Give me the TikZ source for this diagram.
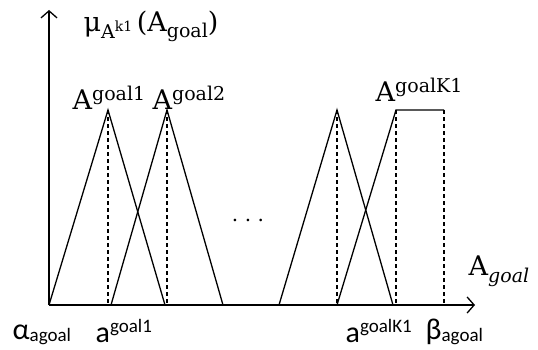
\documentclass[tikz,border=0pt]{standalone}
\usepackage{fontspec}
\usepackage{tikz}
\usetikzlibrary{arrows.meta}
\setmainfont{DejaVu Serif}
\newfontfamily\calib{Carlito}
\newcommand\upper[2][9pt]{\raisebox{#1}{\fontsize{19}{19}\selectfont #2}}
\newcommand\lowtxt[2][-6pt]{\raisebox{#1}{\fontsize{19}{19}\selectfont #2}}

\begin{document}
\begin{tikzpicture}[x=1pt, y=1pt, line width=1.3pt,
    axis/.style={-{Straight Barb[length=7pt,width=16pt]}},
    guide/.style={dash pattern=on 4pt off 3pt},
    lab/.style={inner sep=0pt, anchor=base west, font=\fontsize{27}{27}\selectfont},
    tick/.style={inner sep=0pt, anchor=base west, font=\calib\fontsize{30}{30}\selectfont}]
  \useasboundingbox (0,0) rectangle (538,349);

  % axes
  \coordinate (o) at (49,44);
  \coordinate (ytop) at (49,339);
  \coordinate (xend) at (475,44);
  \draw[axis] (o) -- (ytop);
  \draw[axis] (o) -- (xend);

  % feet and peaks
  \coordinate (p1) at (108,239);  \coordinate (f1) at (165,44);
  \coordinate (g2) at (111,44);   \coordinate (p2) at (167,239);  \coordinate (f2) at (223,44);
  \coordinate (g3) at (279,44);   \coordinate (p3) at (337,239);  \coordinate (f3) at (393,44);
  \coordinate (g4) at (337,44);   \coordinate (p4) at (396,239);  \coordinate (q4) at (444,239);

  \draw (o) -- (p1) -- (f1);
  \draw (g2) -- (p2) -- (f2);
  \draw (g3) -- (p3) -- (f3);
  \draw (g4) -- (p4) -- (q4);

  \draw[guide] (p1) -- (p1 |- o);
  \draw[guide] (p2) -- (p2 |- o);
  \draw[guide] (p3) -- (p3 |- o);
  \draw[guide] (p4) -- (p4 |- o);
  \draw[guide] (q4) -- (q4 |- o);

  % labels
  \node[lab] (ylabel) at (83,317) {μ\lowtxt[-7pt]{A\upper[7pt]{\fontsize{14}{14}\selectfont k1}}\,(A\lowtxt{goal})};
  \node[lab] (lab1) at (72,240) {A\upper{goal1}};
  \node[lab] (lab2) at (152,240) {A\upper{goal2}};
  \node[lab] (labK) at (375,248) {A\upper{goalK1}};
  \node[lab] (xlabel) at (468,74) {A\lowtxt[-7pt]{\itshape goal}};
  \node[inner sep=0pt, font=\fontsize{20}{20}\selectfont] (dots) at (248,129) {.\hspace{6.5pt}.\hspace{6.5pt}.};

  \node[tick] (alpha) at (12,10) {α\lowtxt[-2pt]{\calib agoal}};
  \node[tick] (a1) at (95,7) {a\upper[10pt]{\calib goal1}};
  \node[tick] (aK) at (345,7) {a\upper[10pt]{\calib goalK1}};
  \node[tick] (beta) at (425,10) {β\lowtxt[-2pt]{\calib agoal}};
\end{tikzpicture}
\end{document}
